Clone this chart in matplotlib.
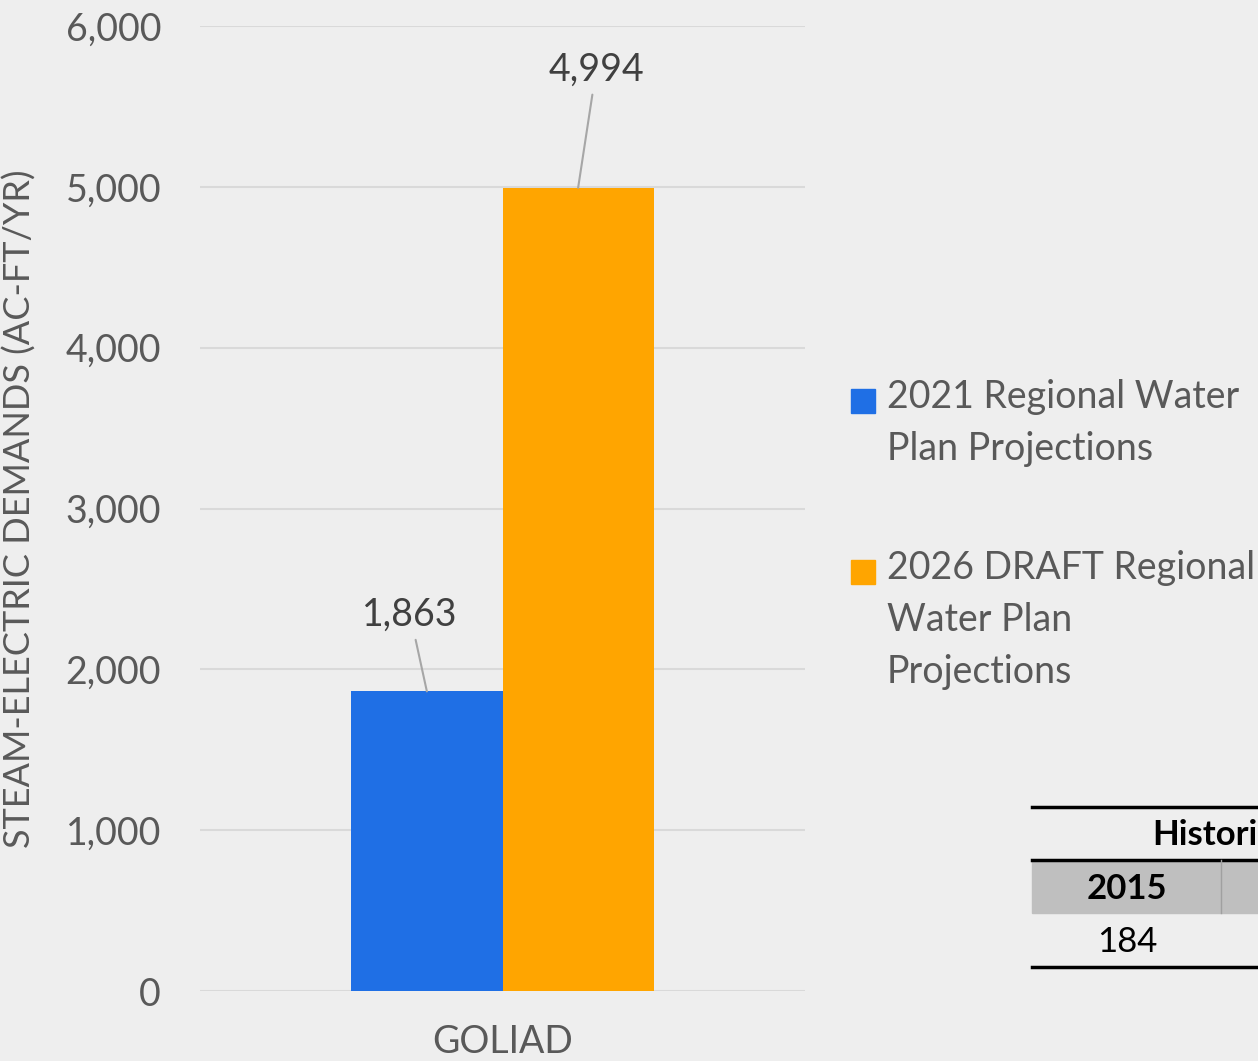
import matplotlib.pyplot as plt
from matplotlib.patches import Rectangle
from matplotlib.lines import Line2D

# Data
category = ["GOLIAD"]
series_names = ["2021 Regional Water\nPlan Projections",
                "2026 DRAFT Regional\nWater Plan\nProjections"]
values = [1863, 4994]
colors = ["#1f6fe5", "#ffa500"]
yticks = [0, 1000, 2000, 3000, 4000, 5000, 6000]
hist_year = "2015"
hist_value = "184"

plt.rcParams["font.family"] = ["Lato", "DejaVu Sans"]
bg = "#eeeeee"

fig = plt.figure(figsize=(12.58, 10.61), dpi=100, facecolor=bg)
ax = fig.add_axes([200 / 1258, 70 / 1061, 605 / 1258, 965 / 1061])
ax.set_facecolor(bg)

width = 0.25
offsets = [-width / 2, width / 2]
for v, off, c in zip(values, offsets, colors):
    ax.bar(off, v, width=width, color=c, zorder=3)

ax.set_xlim(-0.5, 0.5)
ax.set_ylim(0, 6000)
ax.set_yticks(yticks)
ax.set_yticklabels([f"{t:,}" for t in yticks], fontsize=27, color="#595959")
ax.set_xticks([0])
ax.set_xticklabels(category, fontsize=27, color="#595959")
ax.tick_params(length=0, pad=28, axis="y")
ax.tick_params(length=0, pad=24, axis="x")
ax.grid(axis="y", color="#d9d9d9", linewidth=1.5, zorder=0)
for s in ax.spines.values():
    s.set_visible(False)
ax.set_ylabel("STEAM-ELECTRIC DEMANDS (AC-FT/YR)", fontsize=26,
              color="#595959")
ax.yaxis.set_label_coords(-0.27, 0.5)

# Data labels with leader lines
label_offsets = [(-12, 55), (13, 85)]
for v, off, (dx, dy) in zip(values, offsets, label_offsets):
    ax.annotate(f"{v:,}", xy=(off, v), xytext=(dx, dy),
                textcoords="offset points", ha="center", va="center",
                fontsize=27, color="#404040",
                arrowprops=dict(arrowstyle="-", color="#a6a6a6", lw=1.5,
                                shrinkA=3, shrinkB=0))

# Legend drawn manually
W, H = 1258, 1061
leg_y = [401, 572]
for name, c, y in zip(series_names, colors, leg_y):
    fig.patches.append(Rectangle((851 / W, 1 - (y + 12) / H), 24 / W, 24 / H,
                                 color=c, transform=fig.transFigure))
    fig.text(887 / W, 1 - (y - 22) / H, name, fontsize=27, color="#595959",
             va="top", ha="left", linespacing=1.55)

# Partial table at bottom right
def fy(p):
    return 1 - p / H

fig.patches.append(Rectangle((1032 / W, fy(913)), (W - 1032) / W, 53 / H,
                             color="#bfbfbf", transform=fig.transFigure))
for yy in [807, 860, 967]:
    fig.add_artist(Line2D([1032 / W, 1], [fy(yy), fy(yy)], color="black",
                          lw=2.5, transform=fig.transFigure))
fig.add_artist(Line2D([1221 / W, 1221 / W], [fy(860), fy(913)],
                      color="#a0a0a0", lw=1, transform=fig.transFigure))
fig.text(1152 / W, fy(835), "Historical", fontsize=25, fontweight="bold",
         color="black", va="center", ha="left")
fig.text(1127 / W, fy(889), hist_year, fontsize=25, fontweight="bold",
         color="black", va="center", ha="center")
fig.text(1127 / W, fy(942), hist_value, fontsize=25, color="black",
         va="center", ha="center")

fig.savefig("out.png", dpi=100, facecolor=bg)
